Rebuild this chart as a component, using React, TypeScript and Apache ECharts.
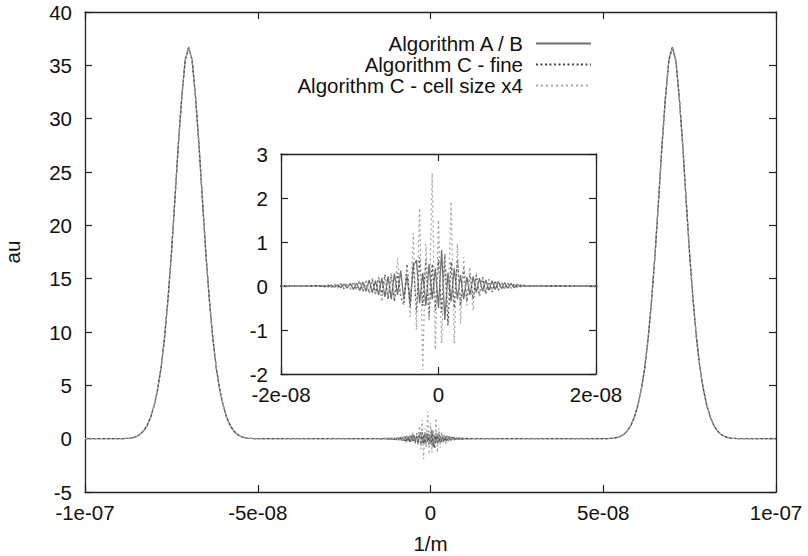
import React, { useEffect, useRef } from "react";
import * as echarts from "echarts";

// x positions are stored in units of 1e-9 m (nanometre steps) to keep ticks exact
const mainXTicks = [-100, -50, 0, 50, 100];
const mainXTickLabels = ["-1e-07", "-5e-08", "0", "5e-08", "1e-07"];
const insetXTicks = [-20, 0, 20];
const insetXTickLabels = ["-2e-08", "0", "2e-08"];

const seriesNames = ["Algorithm A / B", "Algorithm C - fine", "Algorithm C - cell size x4"];

// Peak centres (1e-9 m) and the profile at 1e-9 m steps (offsets -20..20)
const peakCenters = [-70, 70];
const peakProfile = [
  0, 0.01, 0.02, 0.05, 0.11, 0.22, 0.42, 0.75, 1.25, 2.0, 3.1, 4.6, 6.6, 9.4, 13.0, 17.3, 22.3, 27.5,
  32.0, 35.5, 36.7, 35.5, 32.0, 27.5, 22.3, 17.3, 13.0, 9.4, 6.6, 4.6, 3.1, 2.0, 1.25, 0.75, 0.42,
  0.22, 0.11, 0.05, 0.02, 0.01, 0,
];

// Central noise, sampled every 0.4e-9 m from -16e-9 m to 12e-9 m
const noiseStart = -16;
const noiseStep = 0.4;
const noiseAB = [
  0, 0, 0.01, -0.01, 0.01, -0.02, 0.02, -0.03, 0.03, -0.04, 0.05, -0.05, 0.06, -0.08, 0.07, -0.1,
  0.09, -0.12, 0.14, -0.15, 0.12, -0.2, 0.18, -0.25, 0.22, -0.3, 0.28, -0.2, 0.35, -0.3, 0.25, -0.4,
  0.45, 0.59, -0.39, 0.3, -0.45, 0.5, -0.3, 0.4, -0.5, 0.82, -0.77, 0.3, -0.35, 0.4, -0.3, 0.25,
  -0.3, 0.2, -0.2, 0.22, -0.15, 0.18, -0.12, 0.14, -0.1, 0.12, -0.08, 0.1, -0.06, 0.08, -0.05, 0.06,
  -0.04, 0.04, -0.02, 0.02, -0.01, 0, 0,
];
const noiseCFine = [
  0, 0.01, -0.01, 0.01, -0.02, 0.02, -0.03, 0.04, -0.03, 0.05, -0.06, 0.06, -0.07, 0.09, -0.08, 0.11,
  -0.12, 0.1, -0.16, 0.15, -0.18, 0.2, -0.22, 0.26, -0.3, 0.25, -0.35, 0.3, -0.25, -0.43, 0.5, -0.5,
  0.55, -0.6, 0.65, -0.45, 0.6, -0.7, 0.5, -0.55, 0.6, -0.6, 0.7, -0.89, 0.55, -0.5, 0.6, -0.45,
  0.4, -0.35, 0.3, -0.3, 0.25, -0.22, 0.2, -0.18, 0.15, -0.14, 0.12, -0.1, 0.08, -0.07, 0.06, -0.05,
  0.04, -0.03, 0.02, -0.01, 0.01, 0, 0,
];
const noiseCx4 = [
  0, 0.01, -0.01, 0.02, -0.02, 0.03, -0.02, 0.04, -0.05, 0.06, -0.04, 0.08, -0.07, 0.1, -0.09, 0.12,
  -0.1, 0.15, -0.14, 0.18, -0.2, 0.22, -0.36, 0.2, -0.25, 0.3, -0.3, 0.63, -0.2, -0.43, 0.45, -0.7,
  1.2, -1.0, 1.77, -1.91, 0.95, -0.8, 2.57, -1.45, 1.5, -1.3, 0.75, -0.6, 1.92, -1.3, 0.97, -0.85,
  0.66, -0.45, 0.43, -0.55, 0.3, -0.25, 0.2, -0.18, 0.15, -0.12, 0.1, -0.08, 0.07, -0.05, 0.05, -0.04,
  0.03, -0.02, 0.02, -0.01, 0.01, 0, 0,
];

const FONT = "'Liberation Sans', Arial, Helvetica, sans-serif";
const FONT_SIZE = 20.5;
const AXIS_COLOR = "#222";
const TEXT_COLOR = "#111";

function buildData(noise: number[]): number[][] {
  const pts: number[][] = [[-100, 0]];
  const addPeak = (c: number) => {
    peakProfile.forEach((v, i) => pts.push([c + (i - 20), v]));
  };
  addPeak(peakCenters[0]);
  noise.forEach((v, i) => pts.push([+(noiseStart + i * noiseStep).toFixed(2), v]));
  addPeak(peakCenters[1]);
  pts.push([100, 0]);
  return pts;
}

const styles = [
  { color: "#707070", type: "solid" as any, width: 1.3 },
  { color: "#4a4a4a", type: [2, 2.5] as any, width: 1.3 },
  { color: "#a8a8a8", type: [2, 3] as any, width: 1.3 },
];
const noises = [noiseAB, noiseCFine, noiseCx4];

function labelFrom(ticks: number[], labels: string[]) {
  return (v: number) => {
    const i = ticks.indexOf(Math.round(v));
    return i >= 0 ? labels[i] : "";
  };
}

export default function App() {
  const ref = useRef<HTMLDivElement>(null);
  useEffect(() => {
    if (!ref.current) return;
    const chart = echarts.init(ref.current, undefined, { renderer: "svg" });
    const axisLine = { show: true, onZero: false, lineStyle: { color: AXIS_COLOR, width: 1.3 } };
    const tick = { show: true, inside: true, length: 7, lineStyle: { color: AXIS_COLOR, width: 1.2 } };
    const lbl = { fontSize: FONT_SIZE, fontFamily: FONT, color: TEXT_COLOR };

    const series: any[] = [];
    [0, 2].forEach((axisIdx) => {
      noises.forEach((n, k) => {
        series.push({
          type: "line",
          name: seriesNames[k],
          xAxisIndex: axisIdx,
          yAxisIndex: axisIdx,
          data: buildData(n),
          symbol: "none",
          showSymbol: false,
          clip: true,
          lineStyle: styles[k],
          itemStyle: { color: styles[k].color },
          z: 2 + k,
        });
      });
    });

    chart.setOption({
      animation: false,
      backgroundColor: "#fff",
      grid: [
        { left: 85, top: 12, width: 691, height: 480, containLabel: false, outerBoundsMode: "none" },
        { left: 281, top: 154, width: 315, height: 220, containLabel: false, outerBoundsMode: "none" },
      ],
      legend: {
        orient: "vertical",
        right: 216,
        top: 33,
        align: "right",
        itemWidth: 55,
        itemHeight: 10,
        itemGap: 0,
        padding: 0,
        data: seriesNames,
        itemStyle: { opacity: 0 },
        textStyle: { fontSize: FONT_SIZE, fontFamily: FONT, color: TEXT_COLOR, lineHeight: 19, padding: [0, 8, 0, 0] },
      },
      xAxis: [
        {
          type: "value", gridIndex: 0, min: -100, max: 100, interval: 50,
          axisLine, axisTick: tick, splitLine: { show: false },
          axisLabel: { ...lbl, margin: 10, showMinLabel: true, showMaxLabel: true, formatter: labelFrom(mainXTicks, mainXTickLabels) },
          name: "1/m", nameLocation: "middle", nameGap: 41,
          nameTextStyle: { fontSize: FONT_SIZE, fontFamily: FONT, color: TEXT_COLOR },
        },
        {
          type: "value", gridIndex: 0, position: "top", min: -100, max: 100, interval: 50,
          axisLine, axisTick: tick, axisLabel: { show: false }, splitLine: { show: false },
        },
        {
          type: "value", gridIndex: 1, min: -20, max: 20, interval: 20,
          axisLine, axisTick: tick, splitLine: { show: false },
          axisLabel: { ...lbl, margin: 10, showMinLabel: true, showMaxLabel: true, formatter: labelFrom(insetXTicks, insetXTickLabels) },
        },
        {
          type: "value", gridIndex: 1, position: "top", min: -20, max: 20, interval: 20,
          axisLine, axisTick: tick, axisLabel: { show: false }, splitLine: { show: false },
        },
      ],
      yAxis: [
        {
          type: "value", gridIndex: 0, min: -5, max: 40, interval: 5,
          axisLine, axisTick: tick, splitLine: { show: false },
          axisLabel: { ...lbl, margin: 13, showMinLabel: true, showMaxLabel: true },
          name: "au", nameLocation: "middle", nameGap: 62,
          nameTextStyle: { fontSize: FONT_SIZE, fontFamily: FONT, color: TEXT_COLOR },
        },
        {
          type: "value", gridIndex: 0, position: "right", min: -5, max: 40, interval: 5,
          axisLine, axisTick: tick, axisLabel: { show: false }, splitLine: { show: false },
        },
        {
          type: "value", gridIndex: 1, min: -2, max: 3, interval: 1,
          axisLine, axisTick: tick, splitLine: { show: false },
          axisLabel: { ...lbl, margin: 13, showMinLabel: true, showMaxLabel: true },
        },
        {
          type: "value", gridIndex: 1, position: "right", min: -2, max: 3, interval: 1,
          axisLine, axisTick: tick, axisLabel: { show: false }, splitLine: { show: false },
        },
      ],
      series,
    });
    return () => chart.dispose();
  }, []);
  return (
    <div
      ref={ref}
      style={{ position: "fixed", left: 0, top: 0, width: 808, height: 556, background: "#fff" }}
    />
  );
}
